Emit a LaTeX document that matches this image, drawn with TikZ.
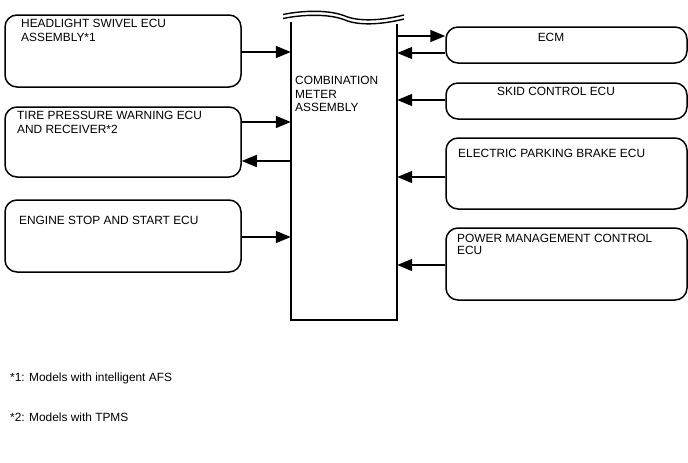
\documentclass[tikz,border=0pt]{standalone}
\usepackage{fontspec}
\setmainfont{Liberation Sans}
\usetikzlibrary{arrows.meta}
\tikzset{
  ecubox/.style={draw, line width=1.5pt, rounded corners=12pt, minimum width=236pt, minimum height=#1, inner sep=0pt},
  lbl/.style={anchor=north west, inner sep=0pt, align=left, font=\fontsize{11.9}{13.8}\selectfont},
  sig/.style={line width=1.5pt, -{Triangle[length=15pt,width=12pt]}}
}
\begin{document}
\begin{tikzpicture}[x=1pt,y=-1pt]
\useasboundingbox (0,0) rectangle (688,463);

% left side units
\node[ecubox=72pt] (hl) at (123,51) {};
\node[ecubox=70pt] (tp) at (123,142) {};
\node[ecubox=72pt] (es) at (123,236) {};

% right side units
\node[ecubox=36pt, minimum width=241pt] (ecm) at (566.5,45) {};
\node[ecubox=36pt, minimum width=241pt] (skid) at (566.5,101) {};
\node[ecubox=71pt, minimum width=241pt] (epb) at (566.5,173.5) {};
\node[ecubox=72pt, minimum width=241pt] (pm) at (566.5,264) {};

% combination meter, cut off at the top
\node[minimum width=106pt, minimum height=298pt, inner sep=0pt] (cm) at (344,171) {};
\draw[line width=1.5pt] (cm.north west) -- (cm.south west) -- (cm.south east) -- ([yshift=-2pt]cm.north east);
\draw[line width=1.4pt] (283,14.5) .. controls (305,10) and (330,10) .. (345,16) .. controls (358,21.5) and (380,21) .. (404,15);
\draw[line width=1.4pt] (283,18.5) .. controls (305,14) and (330,14) .. (345,20) .. controls (358,25.5) and (380,25) .. (404,19);

\node[lbl] (hltxt) at (21,18.7) {HEADLIGHT SWIVEL ECU\\ASSEMBLY*1};
\node[lbl] (tptxt) at (17,110.7) {TIRE PRESSURE WARNING ECU\\AND RECEIVER*2};
\node[lbl] (estxt) at (19,215.7) {ENGINE STOP AND START ECU};
\node[lbl] (cmtxt) at (295,75.7) {COMBINATION\\METER\\ASSEMBLY};
\node[lbl, anchor=north] (ecmtxt) at (551,32.7) {ECM};
\node[lbl] (skidtxt) at (497,86.7) {SKID CONTROL ECU};
\node[lbl] (epbtxt) at (458,148.7) {ELECTRIC PARKING BRAKE ECU};
\node[lbl] (pmtxt) at (457,233.7) {POWER MANAGEMENT CONTROL\\[-1.5pt]ECU};

\draw[sig] ([yshift=-1pt]hl.east) -- ([yshift=-1pt]hl.east -| cm.west);
\draw[sig] ([yshift=20pt]tp.east) -- ([yshift=20pt]tp.east -| cm.west);
\draw[sig] ([yshift=-19pt]tp.east -| cm.west) -- ([yshift=-19pt]tp.east);
\draw[sig] ([yshift=-1pt]es.east) -- ([yshift=-1pt]es.east -| cm.west);

\draw[sig] ([yshift=9pt]ecm.west -| cm.east) -- ([yshift=9pt]ecm.west);
\draw[sig] ([yshift=-8pt]ecm.west) -- ([yshift=-8pt]ecm.west -| cm.east);
\draw[sig] ([yshift=1pt]skid.west) -- ([yshift=1pt]skid.west -| cm.east);
\draw[sig] ([yshift=-3.5pt]epb.west) -- ([yshift=-3.5pt]epb.west -| cm.east);
\draw[sig] ([yshift=-1pt]pm.west) -- ([yshift=-1pt]pm.west -| cm.east);

\node[lbl] (fn1) at (10,372.7) {*1: Models with intelligent AFS};
\node[lbl] (fn2) at (10,412.7) {*2: Models with TPMS};
\end{tikzpicture}
\end{document}
